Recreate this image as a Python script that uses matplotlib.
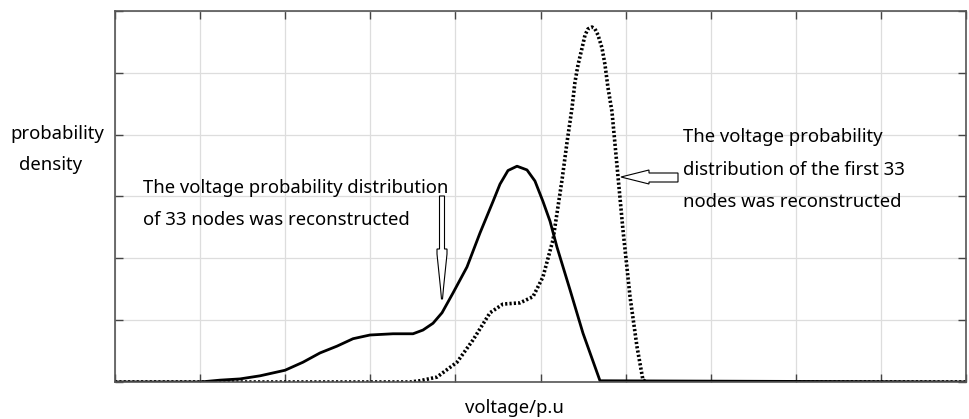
import matplotlib
matplotlib.use("Agg")
import matplotlib.pyplot as plt
from matplotlib.patches import Polygon

# reconstructed distribution of 33 nodes (solid)
solid_x = [0, 1.0, 1.234, 1.469, 1.704, 1.998, 2.209, 2.409, 2.609, 2.797, 2.996, 3.267,
           3.502, 3.619, 3.737, 3.843, 3.972, 4.136, 4.289, 4.442, 4.524, 4.618, 4.724,
           4.841, 4.935, 5.029, 5.112, 5.194, 5.347, 5.499, 5.699, 10]
solid_y = [0, 0, 0.03, 0.05, 0.10, 0.19, 0.32, 0.47, 0.58, 0.70, 0.76, 0.78,
           0.78, 0.84, 0.95, 1.12, 1.44, 1.86, 2.41, 2.92, 3.20, 3.42, 3.49,
           3.43, 3.25, 2.92, 2.60, 2.18, 1.49, 0.79, 0.02, 0]

# reconstructed distribution of the first 33 nodes (dotted)
dot_x = [0, 3.467, 3.584, 3.784, 4.019, 4.207, 4.407, 4.559, 4.759, 4.912, 5.029, 5.147,
         5.253, 5.311, 5.370, 5.405, 5.441, 5.488, 5.523, 5.558, 5.605, 5.640, 5.676,
         5.723, 5.758, 5.793, 5.840, 5.911, 5.969, 6.052, 6.134, 6.204, 6.263, 10]
dot_y = [0, 0, 0.02, 0.08, 0.32, 0.68, 1.12, 1.26, 1.28, 1.38, 1.70, 2.30,
         3.27, 3.87, 4.43, 4.85, 5.13, 5.40, 5.61, 5.71, 5.74, 5.71, 5.61,
         5.40, 5.13, 4.76, 4.37, 3.32, 2.46, 1.38, 0.57, 0.03, 0, 0]

W, H = 969, 419
fig = plt.figure(figsize=(W / 100, H / 100), dpi=100)
ax = fig.add_axes([115 / W, (H - 382) / H, (966 - 115) / W, (382 - 11) / H])

ax.plot(solid_x, solid_y, color="black", lw=2.0, solid_joinstyle="round")
ax.plot(dot_x, dot_y, color="black", lw=2.6, linestyle=(0, (0.6, 0.6)))

ax.set_xlim(0, 10)
ax.set_ylim(0, 6)
ax.set_xticks(range(0, 11))
ax.set_yticks(range(0, 7))
ax.tick_params(direction="in", length=6, width=1, color="#444444",
               top=True, right=True, labelbottom=False, labelleft=False)
ax.grid(True, color="#dddddd", lw=0.9)
for s in ax.spines.values():
    s.set_color("#555555")
    s.set_linewidth(1.2)

font = "Noto Sans"
fs = 13.3


def px(x, y):
    return (x / W, (H - y) / H)


fig.text(*px(57, 134), "probability", ha="center", va="center", family=font, fontsize=fs)
fig.text(*px(50, 165), "density", ha="center", va="center", family=font, fontsize=fs)
fig.text(*px(514, 408), "voltage/p.u", ha="center", va="center", family=font, fontsize=fs)

fig.text(*px(143, 188), "The voltage probability distribution", ha="left", va="center",
         family=font, fontsize=fs)
fig.text(*px(143, 220), "of 33 nodes was reconstructed", ha="left", va="center",
         family=font, fontsize=fs)

fig.text(*px(683, 137), "The voltage probability", ha="left", va="center", family=font, fontsize=fs)
fig.text(*px(683, 170), "distribution of the first 33", ha="left", va="center", family=font, fontsize=fs)
fig.text(*px(683, 202), "nodes was reconstructed", ha="left", va="center", family=font, fontsize=fs)

# hollow arrows
down_arrow = [(439.5, 196), (444.5, 196), (444.5, 249), (447, 249), (447, 254), (443.5, 288),
              (442.5, 299), (441.5, 299), (440.5, 288), (437, 254), (437, 249), (439.5, 249)]
left_arrow = [(678, 173), (649, 173), (649, 170), (621, 177), (649, 184), (649, 182), (678, 182)]
for pts in (down_arrow, left_arrow):
    fig.patches.append(Polygon([px(x, y) for x, y in pts], closed=True, transform=fig.transFigure,
                               facecolor="white", edgecolor="black", lw=0.8, zorder=5))

fig.savefig("out.png", dpi=100)
